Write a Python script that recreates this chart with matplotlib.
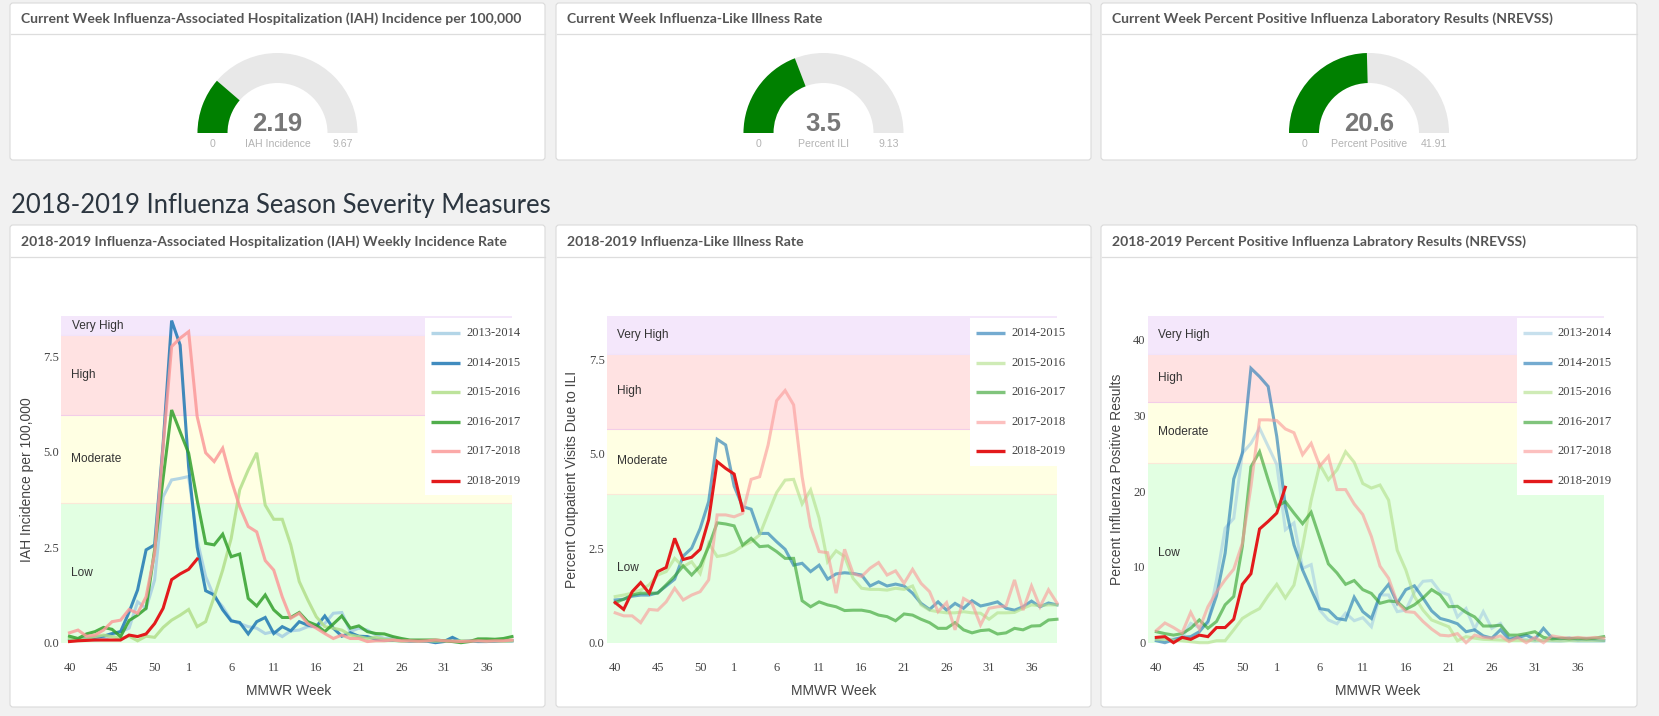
import matplotlib
matplotlib.use('Agg')
import matplotlib.pyplot as plt
from matplotlib.patches import Wedge, Rectangle, FancyBboxPatch
import numpy as np

W, H = 1659, 716

# ---------------- data ----------------
week_labels = list(range(40, 54)) + list(range(1, 40))
tick_weeks = [40, 45, 50, 1, 6, 11, 16, 21, 26, 31, 36]

seasons6 = ["2013-2014", "2014-2015", "2015-2016", "2016-2017", "2017-2018", "2018-2019"]
seasons5 = ["2014-2015", "2015-2016", "2016-2017", "2017-2018", "2018-2019"]
season_colors = {"2013-2014": "#a6cee3", "2014-2015": "#1f78b4", "2015-2016": "#b2df8a",
                 "2016-2017": "#33a02c", "2017-2018": "#fb9a99", "2018-2019": "#e31a1c"}

gauge_titles = ["Current Week Influenza-Associated Hospitalization (IAH) Incidence per 100,000",
                "Current Week Influenza-Like Illness Rate",
                "Current Week Percent Positive Influenza Laboratory Results (NREVSS)"]
gauge_values = [2.19, 3.5, 20.6]
gauge_value_text = ["2.19", "3.5", "20.6"]
gauge_max = [9.67, 9.13, 41.91]
gauge_max_text = ["9.67", "9.13", "41.91"]
gauge_labels = ["IAH Incidence", "Percent ILI", "Percent Positive"]

chart_titles = ["2018-2019 Influenza-Associated Hospitalization (IAH) Weekly Incidence Rate",
                "2018-2019 Influenza-Like Illness Rate",
                "2018-2019 Percent Positive Influenza Labratory Results (NREVSS)"]
y_titles = ["IAH Incidence per 100,000", "Percent Outpatient Visits Due to ILI",
            "Percent Influenza Positive Results"]
band_names = ["Low", "Moderate", "High", "Very High"]
band_colors = ["#e2ffe2", "#ffffe3", "#ffe2e2", "#f4e7fb"]
band_edges = ["#d8f5c8", "#fbe8d8", "#f3cde8", "#f1e3fa"]

iah_bands = [0, 3.66, 5.97, 8.05, 8.55]
ili_bands = [0, 3.93, 5.66, 7.64, 8.64]
pos_bands = [0, 23.76, 31.8, 38.07, 43.1]

iah_ticks = [0, 2.5, 5, 7.5]
ili_ticks = [0, 2.5, 5, 7.5]
pos_ticks = [0, 10, 20, 30, 40]

iah_1314 = [0.07, 0.07, 0.11, 0.07, 0.09, 0.2, 0.29, 0.38, 1.07, 0.9,
            1.64, 3.82, 4.26, 4.3, 4.35, 2.69, 1.73, 1.2, 0.94, 0.59,
            0.5, 0.42, 0.38, 0.24, 0.29, 0.16, 0.31, 0.33, 0.42, 0.42,
            0.5, 0.77, 0.79, 0.29, 0.38, 0.33, 0.2, 0.11, 0.14, 0.07,
            0.05, 0.05, 0.04, 0.05, 0.04, 0.05, 0.04, 0.05, 0.05, 0.04,
            0.05, 0.05, 0.05]
iah_1415 = [0.07, 0.09, 0.11, 0.14, 0.17, 0.24, 0.29, 0.8, 1.38, 2.43,
            2.56, 5.2, 8.43, 7.79, 4.6, 2.5, 1.36, 1.25, 0.86, 0.57,
            0.53, 0.23, 0.55, 0.66, 0.24, 0.42, 0.31, 0.55, 0.46, 0.42,
            0.7, 0.38, 0.17, 0.26, 0.17, 0.16, 0.09, 0.07, 0.06, 0.05,
            0.04, 0.04, 0.04, 0.0, 0.03, 0.14, 0.03, 0.04, 0.03, 0.03,
            0.04, 0.05, 0.05]
iah_1516 = [0.11, 0.07, 0.11, 0.16, 0.2, 0.16, 0.11, 0.17, 0.05, 0.17,
            0.14, 0.4, 0.59, 0.72, 0.87, 0.42, 0.55, 1.2, 1.9, 2.73,
            4.0, 4.52, 4.97, 3.6, 3.23, 3.23, 2.56, 1.6, 1.12, 0.68,
            0.42, 0.38, 0.33, 0.2, 0.16, 0.11, 0.14, 0.09, 0.07, 0.04,
            0.05, 0.04, 0.05, 0.04, 0.05, 0.04, 0.05, 0.04, 0.05, 0.04,
            0.05, 0.04, 0.05]
iah_1617 = [0.17, 0.11, 0.23, 0.29, 0.4, 0.35, 0.16, 0.58, 0.72, 0.9,
            2.43, 4.3, 6.09, 5.52, 4.96, 3.73, 2.6, 2.56, 2.84, 2.25,
            2.32, 1.16, 0.96, 1.25, 0.86, 0.66, 0.66, 0.79, 0.55, 0.46,
            0.29, 0.49, 0.7, 0.38, 0.44, 0.29, 0.24, 0.23, 0.16, 0.11,
            0.07, 0.07, 0.07, 0.07, 0.05, 0.03, 0.0, 0.03, 0.1, 0.1,
            0.09, 0.11, 0.16]
iah_1718 = [0.26, 0.33, 0.17, 0.2, 0.33, 0.55, 0.59, 0.87, 0.77, 1.2,
            2.34, 5.13, 7.75, 7.97, 8.14, 5.92, 4.97, 4.74, 5.09, 4.26,
            3.56, 3.04, 2.9, 2.15, 1.9, 1.2, 0.64, 0.77, 0.5, 0.38,
            0.24, 0.11, 0.2, 0.11, 0.11, 0.03, 0.05, 0.05, 0.07, 0.05,
            0.05, 0.04, 0.05, 0.07, 0.05, 0.04, 0.03, 0.04, 0.05, 0.04,
            0.05, 0.05, 0.07]
iah_1819 = [0.03, 0.05, 0.06, 0.07, 0.07, 0.07, 0.07, 0.2, 0.16, 0.23,
            0.5, 0.9, 1.65, 1.8, 1.92, 2.19]

ili_1415 = [1.13, 1.15, 1.23, 1.26, 1.26, 1.32, 1.5, 1.68, 2.29, 2.5,
            3.02, 3.73, 5.38, 5.23, 4.14, 3.6, 3.53, 2.89, 2.89, 2.67,
            2.47, 2.05, 2.1, 1.88, 2.05, 1.68, 1.82, 1.85, 1.83, 1.79,
            1.5, 1.61, 1.5, 1.55, 1.5, 1.31, 1.04, 0.88, 1.08, 0.86,
            1.04, 0.91, 1.11, 0.97, 1.02, 1.08, 0.91, 0.86, 0.95, 1.1,
            0.95, 1.05, 1.0]
ili_1516 = [1.22, 1.26, 1.31, 1.39, 1.53, 1.79, 1.88, 2.23, 2.01, 2.14,
            1.83, 2.63, 2.28, 2.32, 2.41, 2.56, 2.67, 2.85, 3.42, 3.97,
            4.3, 4.32, 3.67, 4.04, 3.29, 2.14, 2.43, 2.28, 1.7, 1.44,
            1.41, 1.41, 1.39, 1.44, 1.41, 1.5, 1.0, 0.86, 0.82, 0.79,
            0.79, 0.82, 0.79, 0.78, 0.62, 0.79, 0.79, 0.8, 0.91, 1.0,
            0.98, 1.0, 1.0]
ili_1617 = [1.06, 1.15, 1.26, 1.31, 1.31, 1.31, 1.53, 1.76, 2.03, 1.79,
            2.03, 2.54, 3.17, 3.14, 3.09, 2.58, 2.76, 2.54, 2.56, 2.41,
            2.23, 2.23, 1.11, 0.95, 1.08, 1.0, 0.95, 0.85, 0.86, 0.86,
            0.82, 0.73, 0.69, 0.58, 0.76, 0.73, 0.62, 0.53, 0.38, 0.38,
            0.53, 0.34, 0.26, 0.32, 0.34, 0.23, 0.26, 0.38, 0.34, 0.44,
            0.45, 0.6, 0.62]
ili_1718 = [0.79, 0.71, 0.71, 0.53, 0.88, 0.86, 1.08, 1.44, 1.13, 1.26,
            1.35, 1.66, 3.38, 3.38, 3.33, 3.42, 4.32, 4.39, 5.23, 6.4,
            6.67, 6.29, 4.39, 3.07, 2.41, 2.38, 1.31, 2.47, 1.83, 1.75,
            1.97, 2.12, 1.79, 1.9, 1.57, 1.94, 1.57, 1.35, 0.82, 1.06,
            0.34, 1.17, 1.04, 0.47, 0.91, 0.95, 0.97, 1.66, 0.86, 1.5,
            0.95, 1.4, 1.05]
ili_1819 = [1.06, 0.88, 1.35, 1.59, 1.31, 1.88, 1.99, 2.76, 2.2, 2.26,
            2.47, 3.25, 4.79, 4.61, 4.46, 3.5]

pos_1314 = [0.6, 0.4, 0.5, 0.7, 2.55, 2.0, 2.55, 8.3, 15.1, 16.4,
            25.0, 26.3, 28.3, 25.9, 23.5, 14.9, 15.8, 9.8, 10.3, 4.3,
            3.0, 2.5, 3.9, 2.9, 3.3, 2.1, 6.3, 6.3, 4.1, 4.3,
            6.7, 8.1, 8.2, 6.7, 6.3, 3.4, 4.5, 1.8, 4.1, 1.9,
            2.55, 0.6, 0.7, 0.4, 0.2, 0.3, 0.2, 0.2, 0.3, 0.2,
            0.2, 0.2, 0.2]
pos_1415 = [0.26, 0.0, 0.4, 0.7, 0.8, 1.45, 2.8, 6.2, 11.8, 21.6,
            25.0, 36.2, 35.1, 33.8, 27.2, 18.0, 12.9, 9.6, 7.0, 4.5,
            4.3, 3.2, 3.0, 6.0, 4.1, 3.2, 6.3, 7.7, 5.2, 7.0,
            7.5, 5.9, 4.2, 3.2, 2.9, 2.5, 1.45, 1.7, 0.9, 0.6,
            1.7, 0.44, 0.7, 1.0, 0.44, 1.9, 0.6, 0.5, 0.6, 0.4,
            0.5, 0.4, 0.3]
pos_1516 = [0.44, 0.44, 0.35, 0.26, 0.13, 0.0, 0.0, 0.26, 0.26, 1.7,
            3.2, 3.9, 4.5, 6.2, 7.7, 5.9, 7.6, 12.7, 18.8, 23.5,
            21.5, 22.8, 25.2, 23.8, 21.0, 20.4, 20.8, 18.8, 12.2, 9.6,
            6.1, 4.3, 3.0, 2.55, 2.1, 0.26, 0.8, 0.6, 0.44, 0.4,
            0.35, 0.3, 0.3, 0.3, 0.3, 0.3, 0.3, 0.25, 0.3, 0.3,
            0.3, 0.3, 0.3]
pos_1617 = [1.45, 1.2, 1.0, 1.2, 1.9, 3.0, 1.9, 2.8, 5.0, 6.1,
            12.7, 23.2, 25.2, 21.5, 18.0, 18.6, 17.1, 15.7, 17.2, 13.8,
            10.4, 9.2, 7.7, 8.2, 7.0, 6.5, 5.2, 5.5, 5.4, 4.4,
            5.0, 5.9, 7.0, 6.3, 4.75, 4.8, 4.0, 3.4, 2.2, 2.2,
            2.3, 1.0, 1.0, 1.2, 1.45, 0.7, 0.5, 0.6, 0.5, 0.6,
            0.5, 0.6, 0.8]
pos_1718 = [1.6, 2.6, 2.0, 1.3, 4.0, 1.8, 4.75, 6.7, 8.3, 9.7,
            13.1, 20.6, 29.4, 29.4, 29.3, 28.2, 27.7, 24.8, 26.3, 23.3,
            24.6, 20.2, 20.2, 18.3, 16.9, 14.0, 10.1, 8.5, 5.3, 4.1,
            4.0, 2.8, 1.8, 1.0, 0.9, 1.2, 0.0, 1.0, 0.7, 0.6,
            0.9, 0.15, 0.7, 0.0, 0.7, 0.0, 0.9, 0.7, 0.6, 0.7,
            0.6, 0.7, 0.6]
pos_1819 = [0.7, 0.8, 0.0, 0.7, 0.44, 1.0, 0.8, 2.0, 2.0, 3.1,
            7.7, 9.1, 15.0, 16.0, 17.1, 20.5]

charts = [
    dict(series=dict(zip(seasons6, [iah_1314, iah_1415, iah_1516, iah_1617, iah_1718, iah_1819])),
         names=seasons6, bands=iah_bands, ticks=iah_ticks, fmt="{:.1f}", alpha=0.85,
         box=(61, 316, 512, 642.7), ytitle_x=27),
    dict(series=dict(zip(seasons5, [ili_1415, ili_1516, ili_1617, ili_1718, ili_1819])),
         names=seasons5, bands=ili_bands, ticks=ili_ticks, fmt="{:.1f}", alpha=0.62,
         box=(606.7, 316, 1057, 642.7), ytitle_x=571.7),
    dict(series=dict(zip(seasons6, [pos_1314, pos_1415, pos_1516, pos_1617, pos_1718, pos_1819])),
         names=seasons6, bands=pos_bands, ticks=pos_ticks, fmt="{:.0f}", alpha=0.62,
         box=(1147.7, 316, 1603.7, 642.7), ytitle_x=1117.3),
]

# ---------------- figure ----------------
fig = plt.figure(figsize=(W / 100, H / 100), dpi=100)
fig.patch.set_facecolor('#f1f1f1')
bg = fig.add_axes([0, 0, 1, 1], zorder=0)
bg.set_xlim(0, W); bg.set_ylim(H, 0); bg.axis('off')
fg = fig.add_axes([0, 0, 1, 1], zorder=5)
fg.set_xlim(0, W); fg.set_ylim(H, 0); fg.axis('off')
renderer = fig.canvas.get_renderer()


def fit_text(ax, x, y, s, width_px, **kw):
    t = ax.text(x, y, s, fontsize=10, **kw)
    w = t.get_window_extent(renderer=renderer).width
    t.set_fontsize(10 * width_px / w)
    return t


cols = [(10, 545), (556, 1091), (1101, 1637)]
rows = [(3, 160, 34), (225, 707, 257)]
for (x0, x1) in cols:
    for (y0, y1, hy) in rows:
        bg.add_patch(FancyBboxPatch((x0, y0), x1 - x0, y1 - y0,
                                    boxstyle='round,pad=0,rounding_size=3',
                                    fc='white', ec='#dadada', lw=0.8))
        bg.plot([x0 + 0.5, x1 - 0.5], [hy, hy], color='#dddddd', lw=0.9)

# header texts
t0 = fit_text(bg, cols[0][0] + 11, 19, gauge_titles[0], 500,
              family='Lato', fontweight='bold', color='#555555', va='center', ha='left')
hsize = t0.get_fontsize()
for i in (1, 2):
    bg.text(cols[i][0] + 11, 19, gauge_titles[i], fontsize=hsize, family='Lato',
            fontweight='bold', color='#555555', va='center', ha='left')
for i in range(3):
    bg.text(cols[i][0] + 11, 242, chart_titles[i], fontsize=hsize, family='Lato',
            fontweight='bold', color='#555555', va='center', ha='left')

fit_text(bg, 10.6, 213, "2018-2019 Influenza Season Severity Measures", 540,
         family='Lato', fontweight='normal', color='#2c3640', va='baseline', ha='left')

# gauges
for i in range(3):
    cx = (cols[i][0] + cols[i][1]) / 2.0
    cy = 133
    bg.add_patch(Wedge((cx, cy), 80, 180, 360, width=30, fc='#e8e8e8', ec='none'))
    frac = gauge_values[i] / gauge_max[i]
    bg.add_patch(Wedge((cx, cy), 80, 180, 180 + 180 * frac, width=30, fc='#008000', ec='none'))
    bg.text(cx, 131, gauge_value_text[i], fontsize=18.5, family='Liberation Sans',
            fontweight='bold', color='#777777', ha='center', va='baseline')
    bg.text(cx - 65, 144, "0", fontsize=7.6, family='Liberation Sans', color='#b3b3b3',
            ha='center', va='center')
    bg.text(cx + 65, 144, gauge_max_text[i], fontsize=7.6, family='Liberation Sans',
            color='#b3b3b3', ha='center', va='center')
    bg.text(cx, 144, gauge_labels[i], fontsize=7.6, family='Liberation Sans', color='#b3b3b3',
            ha='center', va='center')

# line charts
xs_all = np.arange(len(week_labels))
tick_pos = [week_labels.index(w) for w in tick_weeks]
for ci, c in enumerate(charts):
    x0, y0, x1, y1 = c['box']
    ax = fig.add_axes([x0 / W, 1 - y1 / H, (x1 - x0) / W, (y1 - y0) / H], zorder=1)
    ax.set_xlim(-1, len(week_labels) - 1)
    ax.set_ylim(c['bands'][0], c['bands'][-1])
    for sp in ax.spines.values():
        sp.set_visible(False)
    b = c['bands']
    pxw = (x1 - x0) / len(week_labels)
    for k in range(4):
        ax.axhspan(b[k], b[k + 1], color=band_colors[k], lw=0, zorder=0)
        if k > 0:
            ax.axhline(b[k], color=band_edges[k], lw=0.8, zorder=0.5)
        ax.text(-1 + 10.5 / pxw, (b[k] + b[k + 1]) / 2, band_names[k], fontsize=8.6,
                family='Liberation Sans', color='#333333', va='center', ha='left', zorder=1)
    for name in c['names']:
        vals = c['series'][name]
        a = 1.0 if name == "2018-2019" else c['alpha']
        ax.plot(xs_all[:len(vals)], vals, color=season_colors[name], lw=2.2, alpha=a,
                solid_joinstyle='miter', zorder=3 if name == "2018-2019" else 2, clip_on=False)
    ax.set_xticks(tick_pos)
    ax.set_xticklabels([str(w) for w in tick_weeks])
    ax.set_yticks(c['ticks'])
    ax.set_yticklabels([c['fmt'].format(t) for t in c['ticks']])
    ax.tick_params(axis='x', length=0, pad=14, labelsize=9, labelcolor='#444444')
    ax.tick_params(axis='y', length=0, pad=1.5, labelsize=9, labelcolor='#444444')
    for lab in ax.get_xticklabels() + ax.get_yticklabels():
        lab.set_family('Liberation Serif')
    # axis titles
    bg.text(c['ytitle_x'], (y0 + y1) / 2, y_titles[ci], rotation=90,
            fontsize=10, family='Liberation Sans', color='#444444', ha='center', va='center')
    bg.text((x0 + x1) / 2 + 2, 690.7, "MMWR Week", fontsize=10, family='Liberation Sans',
            color='#444444', ha='center', va='center')
    # legend
    n = len(c['names'])
    lx = x1 - 87
    fg.add_patch(Rectangle((lx, 318), 87, 333.3 + (n - 1) * 29.5 + 14.5 - 318,
                           fc='white', ec='none'))
    for j, name in enumerate(c['names']):
        yy = 333.3 + j * 29.5
        a = 1.0 if name == "2018-2019" else c['alpha']
        fg.plot([lx + 6, lx + 35], [yy, yy], color=season_colors[name], lw=2.4, alpha=a,
                solid_capstyle='butt')
        fg.text(lx + 41, yy, name, fontsize=9, family='Liberation Serif', color='#444444',
                ha='left', va='center')

fig.savefig('out.png', dpi=100, facecolor=fig.get_facecolor())
